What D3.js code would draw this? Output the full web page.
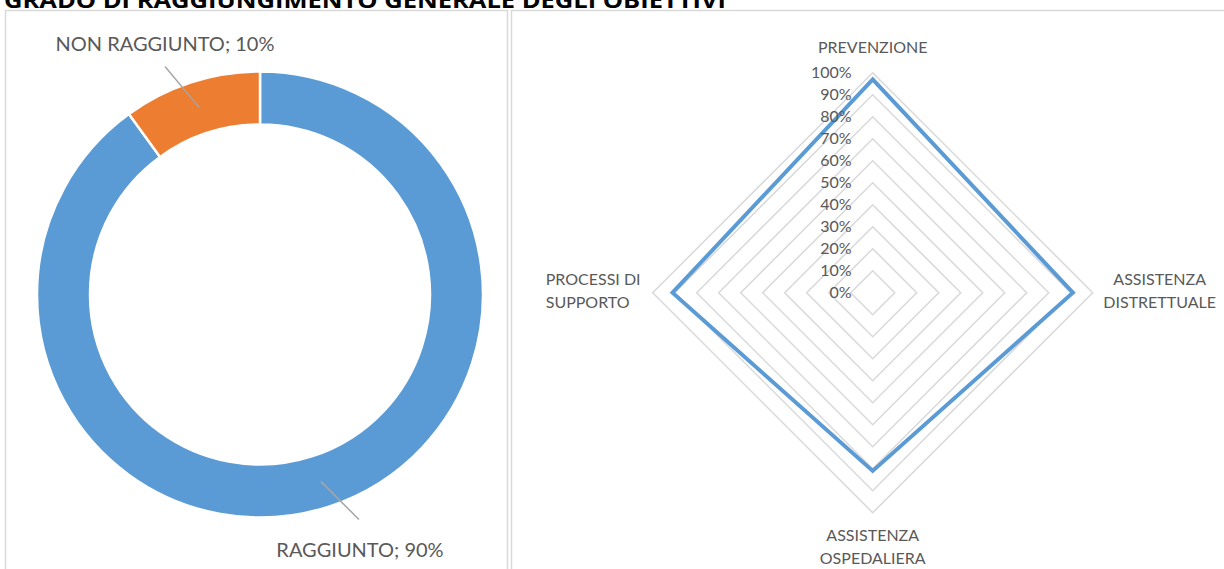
<!DOCTYPE html>
<html>
<head>
<meta charset="utf-8">
<script src="https://cdn.jsdelivr.net/npm/d3@7"></script>
<style>
  body { margin: 0; background: #fff; }
  text { font-family: Lato, "Open Sans", sans-serif; fill: #595959; }
</style>
</head>
<body>
<script>
// dimensions
const width = 1224;
const height = 569;

// donut data
const donutLabels = ["RAGGIUNTO", "NON RAGGIUNTO"];
const donutValues = [90, 10];
const donutColors = ["#5b9bd5", "#ed7d31"];

// radar data
const radarAxes = [["PREVENZIONE"], ["ASSISTENZA", "DISTRETTUALE"], ["ASSISTENZA", "OSPEDALIERA"], ["PROCESSI DI", "SUPPORTO"]];
const radarValues = [0.97, 0.91, 0.81, 0.91];
const radarTicks = [0, 0.1, 0.2, 0.3, 0.4, 0.5, 0.6, 0.7, 0.8, 0.9, 1];

const title = "GRADO DI RAGGIUNGIMENTO GENERALE DEGLI OBIETTIVI";

let svg = d3.select("body")
    .append("svg")
    .attr("width", width)
    .attr("height", height);

// title, mostly cut off at the top
svg.append("text")
    .attr("x", 4)
    .attr("y", 8)
    .attr("textLength", 722)
    .attr("lengthAdjust", "spacingAndGlyphs")
    .style("font-family", "'Open Sans', sans-serif")
    .style("font-weight", "bold")
    .style("font-size", "21px")
    .style("fill", "#000")
    .text(title);

// panel borders
svg.append("rect")
    .attr("x", 5.5).attr("y", 10.5)
    .attr("width", 502).attr("height", 600)
    .attr("fill", "none").attr("stroke", "#d9d9d9").attr("stroke-width", 1.5);
svg.append("rect")
    .attr("x", 511.5).attr("y", 10.5)
    .attr("width", 730).attr("height", 600)
    .attr("fill", "none").attr("stroke", "#d9d9d9").attr("stroke-width", 1.5);

// ---- donut ----
const donutCx = 260, donutCy = 294.5;
const outerR = 223, innerR = 170;

let pie = d3.pie().sort(null).value(function(d) { return d; });
let arc = d3.arc().innerRadius(innerR).outerRadius(outerR);
let arcs = pie(donutValues);

let donut = svg.append("g")
    .attr("transform", "translate(" + donutCx + "," + donutCy + ")");

donut.selectAll("path")
    .data(arcs)
    .enter()
    .append("path")
    .attr("d", arc)
    .attr("fill", function(d, i) { return donutColors[i]; })
    .attr("stroke", "#fff")
    .attr("stroke-width", 2.5);

// label positions relative to donut centre
const labelAnchors = [
    { lx: 99, ly: 225, tx: 100, ty: 262 },    // RAGGIUNTO
    { lx: -95, ly: -228, tx: -95, ty: -244 }  // NON RAGGIUNTO
];

donut.selectAll(".leader")
    .data(arcs)
    .enter()
    .append("line")
    .attr("class", "leader")
    .attr("x1", function(d) { return arc.centroid(d)[0]; })
    .attr("y1", function(d) { return arc.centroid(d)[1]; })
    .attr("x2", function(d, i) { return labelAnchors[i].lx; })
    .attr("y2", function(d, i) { return labelAnchors[i].ly; })
    .attr("stroke", "#a6a6a6")
    .attr("stroke-width", 1.5);

donut.selectAll(".dlabel")
    .data(arcs)
    .enter()
    .append("text")
    .attr("class", "dlabel")
    .attr("x", function(d, i) { return labelAnchors[i].tx; })
    .attr("y", function(d, i) { return labelAnchors[i].ty; })
    .attr("text-anchor", "middle")
    .style("font-size", "20px")
    .text(function(d, i) { return donutLabels[i] + "; " + donutValues[i] + "%"; });

// ---- radar ----
const radarCx = 872.7, radarCy = 292.7, radarR = 220;
let r = d3.scaleLinear().domain([0, 1]).range([0, radarR]);
let angle = function(i) { return i * 2 * Math.PI / radarAxes.length; };

let radar = svg.append("g")
    .attr("transform", "translate(" + radarCx + "," + radarCy + ")");

// grid diamonds
radar.selectAll(".grid")
    .data(radarTicks.slice(1))
    .enter()
    .append("path")
    .attr("class", "grid")
    .attr("d", function(t) {
        return d3.lineRadial()
            .angle(function(d, i) { return angle(i); })
            .radius(r(t))
            .curve(d3.curveLinearClosed)(radarAxes);
    })
    .attr("fill", "none")
    .attr("stroke", "#d9d9d9")
    .attr("stroke-width", 1.5);

// data series
radar.append("path")
    .datum(radarValues)
    .attr("d", d3.lineRadial()
        .angle(function(d, i) { return angle(i); })
        .radius(function(d) { return r(d); })
        .curve(d3.curveLinearClosed))
    .attr("fill", "none")
    .attr("stroke", "#5b9bd5")
    .attr("stroke-width", 4)
    .attr("stroke-linejoin", "miter");

// tick labels
radar.selectAll(".tick")
    .data(radarTicks)
    .enter()
    .append("text")
    .attr("class", "tick")
    .attr("x", -21)
    .attr("y", function(t) { return -r(t); })
    .attr("dy", "0.35em")
    .attr("text-anchor", "end")
    .style("font-size", "16px")
    .text(function(t) { return Math.round(t * 100) + "%"; });

// axis labels
const axisLabelPos = [
    { x: 0, y: -245, anchor: "middle" },
    { x: 287, y: -13, anchor: "middle" },
    { x: 0, y: 243, anchor: "middle" },
    { x: -327, y: -13, anchor: "start" }
];

let axisLabel = radar.selectAll(".axislabel")
    .data(radarAxes)
    .enter()
    .append("text")
    .attr("class", "axislabel")
    .attr("x", function(d, i) { return axisLabelPos[i].x; })
    .attr("y", function(d, i) { return axisLabelPos[i].y; })
    .attr("text-anchor", function(d, i) { return axisLabelPos[i].anchor; })
    .style("font-size", "16px");

axisLabel.selectAll("tspan")
    .data(function(d, i) { return d.map(function(s) { return { s: s, i: i }; }); })
    .enter()
    .append("tspan")
    .attr("x", function(d) { return axisLabelPos[d.i].x; })
    .attr("dy", function(d, j) { return j === 0 ? "0.35em" : "23px"; })
    .text(function(d) { return d.s; });
</script>
</body>
</html>
